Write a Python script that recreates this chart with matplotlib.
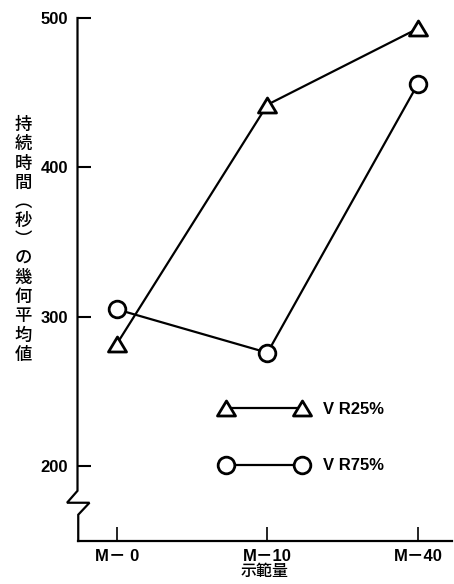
import matplotlib
matplotlib.use('Agg')
import matplotlib.pyplot as plt
import matplotlib.transforms as mtransforms
from matplotlib.path import Path

# data
categories = ['M－ 0', 'M－10', 'M－40']
vr25 = [282, 442, 493]
vr75 = [305, 276, 456]
series_names = ['V R25%', 'V R75%']
yticks = [200, 300, 400, 500]
ylabel_chars = '持続時間︵秒︶の幾何平均値'
xlabel = '示範量'

plt.rcParams['font.family'] = ['Liberation Sans', 'Noto Sans CJK JP', 'DejaVu Sans']

fig = plt.figure(figsize=(4.54, 5.84), dpi=100)
ax = fig.add_axes([77.5 / 454, 1 - 541 / 584, (452 - 77.5) / 454, (541 - 18) / 584])

# flat triangle like the one in the print
tri = Path([(-1, -0.83), (1, -0.83), (0, 0.83), (-1, -0.83)], closed=True)

x = list(range(len(categories)))
style = dict(color='black', lw=1.6, markerfacecolor='white', markeredgewidth=2,
             clip_on=False, solid_joinstyle='miter')
ax.plot(x, vr25, marker=tri, markersize=13, label=series_names[0], **style)
ax.plot(x, vr75, marker='o', markersize=12, label=series_names[1], **style)

ax.set_xlim(-0.262, 2.226)
ax.set_ylim(150, 500)

ax.set_xticks(x)
ax.set_xticklabels(categories)
ax.set_yticks(yticks)
ax.tick_params(axis='y', direction='in', length=9.5, width=1.5, pad=7, labelsize=12)
ax.tick_params(axis='x', direction='in', length=10, width=1.2, pad=6, labelsize=12)
for lbl in ax.get_yticklabels() + ax.get_xticklabels():
    lbl.set_fontweight('bold')

for side in ['top', 'right', 'left']:
    ax.spines[side].set_visible(False)
ax.spines['bottom'].set_linewidth(1.6)

# left axis with the break mark below 200
trans = mtransforms.blended_transform_factory(ax.transAxes, ax.transData)
ax.plot([0, 0, -0.028, 0.032, 0.002, 0.002], [500, 183.6, 175.6, 175.6, 167.6, 150],
        transform=trans, color='black', lw=1.6, clip_on=False, solid_joinstyle='miter')

ax.set_xlabel(xlabel, fontsize=11.5, labelpad=-1, family='Noto Sans CJK JP',
              fontweight='medium')

fig.text(23 / 454, 1 - 240 / 584, '\n'.join(ylabel_chars), ha='center', va='center',
         fontsize=12.5, linespacing=1.08, family='Noto Sans CJK JP', fontweight='medium')

leg = ax.legend(loc='center left', bbox_to_anchor=(221 / 454, 1 - 437.5 / 584),
                bbox_transform=fig.transFigure, frameon=False, numpoints=2,
                handlelength=5.16, handletextpad=0.96, labelspacing=2.5,
                borderpad=0, borderaxespad=0, fontsize=12)
for t in leg.get_texts():
    t.set_fontweight('bold')

fig.savefig('out.png', dpi=100)
